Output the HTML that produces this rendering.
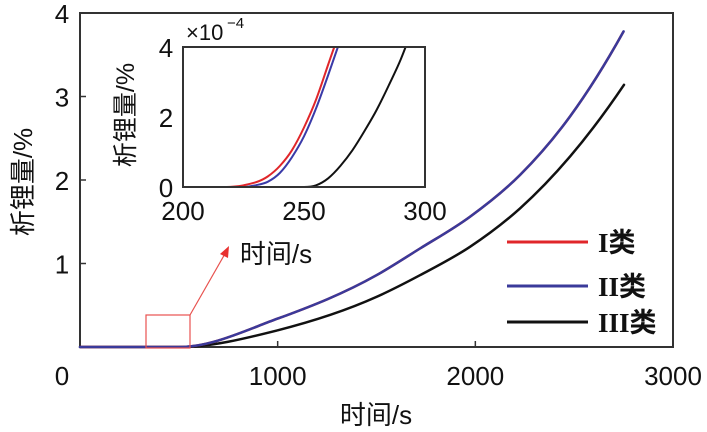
<!DOCTYPE html>
<html><head><meta charset="utf-8"><style>
body{margin:0;background:#fff;}
svg{display:block;font-family:"Liberation Sans","Noto Sans CJK SC",sans-serif;}
</style></head><body>
<svg id="chart" width="707" height="432" viewBox="0 0 707 432"></svg>
<script>
// main chart data (time s, lithium plating %)
const mainXTicks = [0, 1000, 2000, 3000];
const mainYTicks = [1, 2, 3, 4];
const seriesIIx = [0, 500, 1000, 1500, 1720, 1973, 2226, 2479, 2750];
const seriesIIy = [0, 0, 0.34, 0.86, 1.18, 1.56, 2.06, 2.76, 3.78];
const seriesIx = seriesIIx;
const seriesIy = seriesIIy;
const seriesIIIx = [0, 500, 1000, 1500, 1720, 1973, 2226, 2479, 2752];
const seriesIIIy = [0, 0, 0.2, 0.6, 0.86, 1.2, 1.66, 2.28, 3.14];
// inset data (time s, x1e-4 %)
const insetXTicks = [200, 250, 300];
const insetYTicks = [0, 2, 4];
const insetIx = [200, 215, 225, 235, 240, 245, 250, 255, 260, 262.5];
const insetIy = [0, 0, 0.05, 0.3, 0.6, 1.05, 1.7, 2.5, 3.5, 4];
const insetIIx = [200, 225, 230, 235, 240, 245, 250, 255, 260, 264];
const insetIIy = [0, 0, 0.05, 0.15, 0.4, 0.85, 1.45, 2.25, 3.2, 4];
const insetIIIx = [200, 250, 255, 260, 265, 270, 275, 280, 285, 290, 292];
const insetIIIy = [0, 0, 0.05, 0.25, 0.6, 1.05, 1.6, 2.2, 2.9, 3.65, 4];

const NS = "http://www.w3.org/2000/svg";
const svg = document.getElementById('chart');
function el(tag, attrs, parent){const e=document.createElementNS(NS,tag);for(const k in attrs)e.setAttribute(k,attrs[k]);(parent||svg).appendChild(e);return e;}
function txt(s, attrs){const e=el('text',attrs);e.textContent=s;return e;}

function path(xs,ys,sx,sy){
  const n=xs.length, s=[], m=[];
  for(let i=0;i<n-1;i++) s.push((ys[i+1]-ys[i])/(xs[i+1]-xs[i]));
  m[0]=s[0];
  for(let i=1;i<n-1;i++){
    const h0=xs[i]-xs[i-1], h1=xs[i+1]-xs[i];
    m[i]=(s[i-1]*h1+s[i]*h0)/(h0+h1);
    if(s[i-1]===0) m[i]=0;
  }
  m[n-1]=Math.max(s[n-2], 2*s[n-2]-m[n-2]);
  let d='M'+sx(xs[0]).toFixed(1)+','+sy(ys[0]).toFixed(1);
  for(let i=0;i<n-1;i++){
    const h=xs[i+1]-xs[i];
    const c1x=xs[i]+h/3, c1y=ys[i]+m[i]*h/3;
    const c2x=xs[i+1]-h/3, c2y=Math.max(ys[i], ys[i+1]-m[i+1]*h/3);
    d+=' C'+sx(c1x).toFixed(1)+','+sy(c1y).toFixed(1)+' '+sx(c2x).toFixed(1)+','+sy(c2y).toFixed(1)+' '+sx(xs[i+1]).toFixed(1)+','+sy(ys[i+1]).toFixed(1);
  }
  return d;
}

// main axes
const mx = v => 80 + v/3000*(673-80);
const my = v => 347 - v/4*(347-13);
let f = el('rect',{x:80,y:13,width:593,height:334,fill:'none',stroke:'#333',"stroke-width":2});


mainXTicks.forEach(t=>{
  const l=el('line',{x1:mx(t),x2:mx(t),y1:347,y2:341,stroke:'#333','stroke-width':1.5});
  
  
  const tx=txt(String(t),{x:t===0?62:mx(t),y:385,'font-size':26,'text-anchor':'middle',fill:'#111'});
  
  
});
mainYTicks.forEach(t=>{
  const l=el('line',{x1:80,x2:86,y1:my(t),y2:my(t),stroke:'#333','stroke-width':1.5});
  
  
  const tx=txt(String(t),{x:62,y:my(t)+10,'font-size':26,'text-anchor':'middle',fill:'#111'});
  
  
});
let xt=txt('时间/s',{x:376,y:424,'font-size':26,'text-anchor':'middle',fill:'#111'});


let yt=txt('析锂量/%',{x:0,y:0,'font-size':26,'text-anchor':'middle',fill:'#111',transform:'translate(32,182) rotate(-90)'});



let p3=el('path',{d:path(seriesIIIx,seriesIIIy,mx,my),fill:'none',stroke:'#111','stroke-width':2.5,'stroke-linecap':'round'});


let p1=el('path',{d:path(seriesIx,seriesIy,mx,my),fill:'none',stroke:'#e0262a','stroke-width':2.5});


let p2=el('path',{d:path(seriesIIx,seriesIIy,mx,my),fill:'none',stroke:'#3a3a9a','stroke-width':2.5,'stroke-linecap':'round'});



// zoom box and arrow
let zb=el('rect',{x:146,y:315,width:44,height:33,fill:'none',stroke:'#e8524f','stroke-width':1.2});


let ar=el('line',{x1:190,y1:315,x2:226,y2:252,stroke:'#e8524f','stroke-width':1.2});


let ah=el('polygon',{points:'229,246 220,254 228,258',fill:'#e8302f'});



// legend
const legend=[['I类','#e0262a',242],['II类','#3a3a9a',286],['III类','#111',322]];
legend.forEach(([n,c,y],i)=>{
  const l=el('line',{x1:507,x2:588,y1:y,y2:y,stroke:c,'stroke-width':3});
  
  
  const t=txt(n,{x:598,y:y+10,'font-size':27,fill:'#111','font-family':'"Liberation Serif","Noto Sans CJK SC",serif','font-weight':'bold'});
  
  
});

// inset
const ix = v => 183 + (v-200)/100*(425-183);
const iy = v => 187 - v/4*(187-47);
let ib=el('rect',{x:183,y:47,width:242,height:140,fill:'#fff',stroke:'#333','stroke-width':2});


insetXTicks.forEach(t=>{
  const tx=txt(String(t),{x:ix(t),y:220,'font-size':26,'text-anchor':'middle',fill:'#111'});
  
  
});
insetYTicks.forEach(t=>{
  const tx=txt(String(t),{x:166,y:iy(t)+10,'font-size':26,'text-anchor':'middle',fill:'#111'});
  
  
});
let ex=txt('×10',{x:186,y:40,'font-size':22,fill:'#111'});


let ex2=txt('−4',{x:227,y:28,'font-size':15,fill:'#111'});


let ixt=txt('时间/s',{x:276,y:263,'font-size':26,'text-anchor':'middle',fill:'#111'});


let iyt=txt('析锂量/%',{x:0,y:0,'font-size':25,'text-anchor':'middle',fill:'#111',transform:'translate(134,115) rotate(-90)'});


let q3=el('path',{d:path(insetIIIx,insetIIIy,ix,iy),fill:'none',stroke:'#111','stroke-width':2});


let q2=el('path',{d:path(insetIIx,insetIIy,ix,iy),fill:'none',stroke:'#3a3aa8','stroke-width':2});


let q1=el('path',{d:path(insetIx,insetIy,ix,iy),fill:'none',stroke:'#e0262a','stroke-width':2});


let ib2=el('rect',{x:183,y:47,width:242,height:140,fill:'none',stroke:'#333','stroke-width':2});


</script>
</body></html>
